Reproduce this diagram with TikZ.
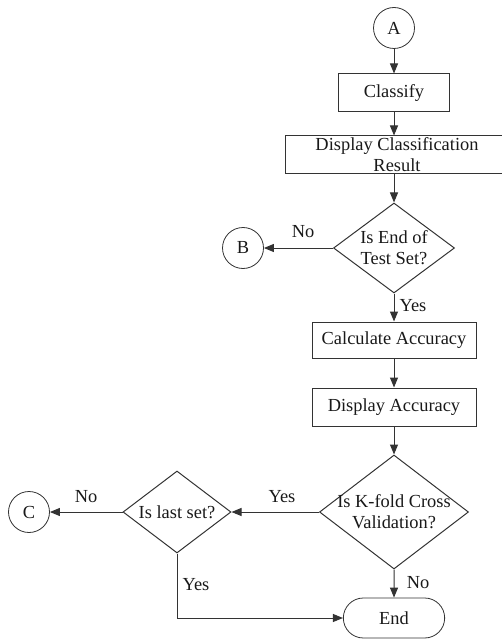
\documentclass[tikz,border=0pt]{standalone}
\usepackage{fontspec}
\setmainfont{Liberation Serif}
\usepackage{tikz}
\usetikzlibrary{arrows.meta,positioning,shapes}

\begin{document}
\begin{tikzpicture}[x=1pt,y=-1pt,font=\fontsize{18.4}{21}\selectfont,text=black!90]
            \tikzstyle{process}=[rectangle, minimum height = 38pt, inner sep=2pt, line width=1pt, draw = black!80]
            \tikzstyle{decision}=[diamond, inner sep=0pt, line width=1pt, draw = black!80]
            \tikzstyle{connector}=[circle, minimum size = 41pt, inner sep=0pt, line width=0.8pt, draw = black!80]
            \tikzstyle{terminal}=[rounded rectangle, minimum width = 108pt, minimum height = 40pt, line width=0.8pt, draw = black!80]
            \tikzstyle{connect}=[line width=1pt, draw = black!80, -{Triangle[length=10pt,width=8pt]}]
            \tikzstyle{answer}=[inner sep=0pt]
            \useasboundingbox (0,0) rectangle (501,639);
            \node[connector] (A) at (394,28){A};
            \node[process, minimum width = 111pt] (Classify) at (394,93){Classify};
            \node[process, minimum width = 224pt, align=center, inner sep=0pt] (DispRes) at (397,155){Display Classification\\Result};

            \node[decision, minimum width = 121pt, minimum height = 90pt, label={[align=center]center:Is End of\\Test Set?}] (EndTest) at (394,248){};
            \node[connector] (B) at (243,248){B};
            \node[process, minimum width = 164pt, minimum height = 36pt] (CalcAcc) at (394,340){Calculate Accuracy};
            \node[process, minimum width = 164pt] (DispAcc) at (394,407){Display Accuracy};

            \node[decision, minimum width = 149pt, minimum height = 114pt, label={[align=center]center:Is K-fold Cross\\Validation?}] (KFold) at (394,512){};
            \node[decision, minimum width = 108pt, minimum height = 82pt, label={center:Is last set?}] (LastSet) at (177,512){};
            \node[connector] (C) at (29,512){C};
            \node[terminal] (End) at (394,618){End};

            \node[answer] (NoB) at (303,232){No};
            \node[answer] (YesTest) at (413,306){Yes};
            \node[answer] (YesK) at (282,497){Yes};
            \node[answer] (NoK) at (418,583){No};
            \node[answer] (NoC) at (86,497){No};
            \node[answer] (YesLast) at (196,585){Yes};

            \path (A) edge [connect] (Classify);
            \path (Classify) edge [connect] (DispRes.north -| Classify);
            \path (DispRes.south -| EndTest) edge [connect] (EndTest);
            \path (EndTest) edge [connect] (B);
            \path (EndTest) edge [connect] (CalcAcc);
            \path (CalcAcc) edge [connect] (DispAcc);
            \path (DispAcc) edge [connect] (KFold);
            \path (KFold) edge [connect] (LastSet);
            \path (LastSet) edge [connect] (C);
            \path (KFold) edge [connect] (End);
            \draw[connect] (LastSet) |- (End);

        \end{tikzpicture}
\end{document}
